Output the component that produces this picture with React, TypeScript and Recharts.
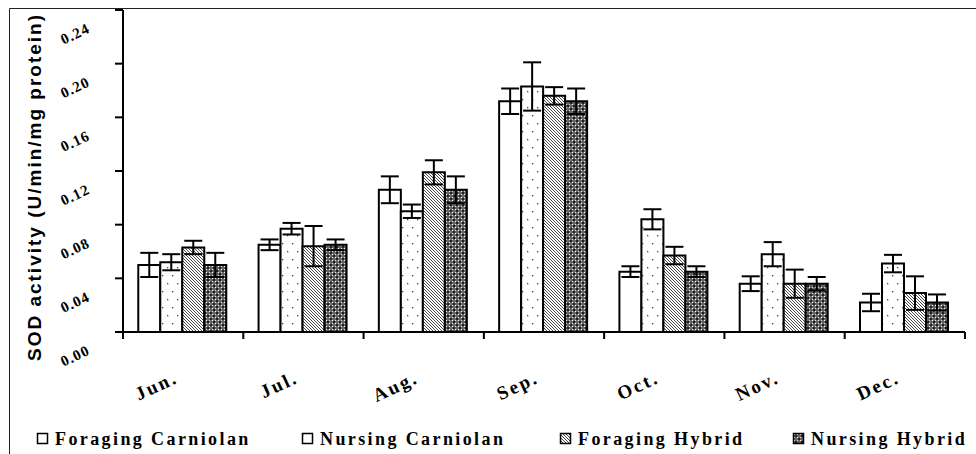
import { BarChart, Bar, XAxis, YAxis, ErrorBar } from "recharts";

const MONTHS = ["Jun.", "Jul.", "Aug.", "Sep.", "Oct.", "Nov.", "Dec."];
const SERIES = ["Foraging Carniolan", "Nursing Carniolan", "Foraging Hybrid", "Nursing Hybrid"];

const FORAGING_CARNIOLAN = [0.05, 0.065, 0.106, 0.172, 0.045, 0.036, 0.022];
const FORAGING_CARNIOLAN_SE = [0.009, 0.004, 0.01, 0.0095, 0.004, 0.0055, 0.0065];
const NURSING_CARNIOLAN = [0.052, 0.077, 0.09, 0.183, 0.084, 0.058, 0.051];
const NURSING_CARNIOLAN_SE = [0.006, 0.0043, 0.005, 0.018, 0.0075, 0.009, 0.0065];
const FORAGING_HYBRID = [0.063, 0.064, 0.119, 0.176, 0.057, 0.036, 0.029];
const FORAGING_HYBRID_SE = [0.005, 0.015, 0.009, 0.0065, 0.0065, 0.0105, 0.0125];
const NURSING_HYBRID = [0.05, 0.065, 0.106, 0.172, 0.045, 0.036, 0.022];
const NURSING_HYBRID_SE = [0.009, 0.004, 0.01, 0.0095, 0.004, 0.005, 0.006];

const Y_TICKS = [0, 0.04, 0.08, 0.12, 0.16, 0.2, 0.24];

const VALUES = [FORAGING_CARNIOLAN, NURSING_CARNIOLAN, FORAGING_HYBRID, NURSING_HYBRID];
const ERRORS = [FORAGING_CARNIOLAN_SE, NURSING_CARNIOLAN_SE, FORAGING_HYBRID_SE, NURSING_HYBRID_SE];
const FILLS = ["#ffffff", "url(#pat-dots)", "url(#pat-diag)", "url(#pat-check)"];

// legend swatch left edges
const LEGEND_X = [37, 302, 560, 793];

const W = 976;
const H = 454;
const Y_AXIS_W = 123;
const X_AXIS_H = 122;
const M_RIGHT = 11;
const AXIS_Y = H - X_AXIS_H;
const BAND = (W - Y_AXIS_W - M_RIGHT) / MONTHS.length;

const SERIF = "'Liberation Serif', 'Times New Roman', Times, serif";
const SANS = "'Liberation Sans', Arial, Helvetica, sans-serif";

const data = MONTHS.map((m, i) => {
  const row: Record<string, string | number> = { month: m };
  VALUES.forEach((v, s) => {
    row["s" + s] = v[i];
    row["e" + s] = ERRORS[s][i];
  });
  return row;
});

const YTick = (props: any) => {
  const { x, y, payload } = props;
  const ex = x - 22;
  const by = y + 22;
  return (
    <text
      transform={`translate(${ex},${by}) rotate(-25)`}
      textAnchor="end"
      style={{ fontFamily: SERIF, fontWeight: 700, fontSize: 15, letterSpacing: 1 }}
      fill="#000"
    >
      {Number(payload.value).toFixed(2)}
    </text>
  );
};

const XTick = (props: any) => {
  const { x, payload, index } = props;
  const left = x - BAND / 2;
  const right = x + BAND / 2;
  return (
    <g>
      <line x1={left} y1={AXIS_Y} x2={left} y2={AXIS_Y + 7} stroke="#000" strokeWidth={2} />
      {index === MONTHS.length - 1 && (
        <line x1={right} y1={AXIS_Y} x2={right} y2={AXIS_Y + 7} stroke="#000" strokeWidth={2} />
      )}
      <text
        transform={`translate(${x - 4},${AXIS_Y + 50}) rotate(-25)`}
        textAnchor="end"
        style={{ fontFamily: SERIF, fontWeight: 700, fontSize: 19, letterSpacing: 2.3 }}
        fill="#000"
      >
        {payload.value}
      </text>
    </g>
  );
};

const TitleLabel = () => (
  <text
    transform="translate(41,187) rotate(-90)"
    textAnchor="middle"
    style={{ fontFamily: SANS, fontWeight: 700, fontSize: 19, letterSpacing: 2 }}
    fill="#000"
  >
    SOD activity (U/min/mg protein)
  </text>
);

export default function App() {
  return (
    <div style={{ position: "absolute", left: 0, top: 0, width: W, height: H, background: "#fff" }}>
      <BarChart
        width={W}
        height={H}
        data={data}
        margin={{ top: 10, right: M_RIGHT, left: 0, bottom: 0 }}
        barCategoryGap="12.7%"
        barGap={0}
      >
        <XAxis
          dataKey="month"
          height={X_AXIS_H}
          tickLine={false}
          axisLine={{ stroke: "#000", strokeWidth: 2 }}
          tick={<XTick />}
          interval={0}
        />
        <YAxis
          width={Y_AXIS_W}
          domain={[0, 0.24]}
          ticks={Y_TICKS}
          tickSize={8}
          tickLine={{ stroke: "#000", strokeWidth: 2 }}
          axisLine={{ stroke: "#000", strokeWidth: 2 }}
          tick={<YTick />}
          label={{ content: <TitleLabel /> }}
        />
        {SERIES.map((name, s) => (
          <Bar
            key={name}
            dataKey={"s" + s}
            name={name}
            fill={FILLS[s]}
            stroke="#000"
            strokeWidth={2}
            isAnimationActive={false}
          >
            <ErrorBar dataKey={"e" + s} width={9} stroke="#000" strokeWidth={2} direction="y" />
          </Bar>
        ))}
      </BarChart>

      <svg
        width={W}
        height={H}
        style={{ position: "absolute", left: 0, top: 0, pointerEvents: "none" }}
      >
        <defs>
          <pattern id="pat-dots" width="10" height="16" patternUnits="userSpaceOnUse">
            <rect width="10" height="16" fill="#fff" />
            <rect x="2" y="3" width="1.3" height="1.3" fill="#444" />
            <rect x="7" y="11" width="1.3" height="1.3" fill="#444" />
          </pattern>
          <pattern id="pat-diag" width="3" height="3" patternUnits="userSpaceOnUse">
            <rect width="3" height="3" fill="#fff" />
            <path d="M0,0 L3,3 M-1,2 L1,4 M2,-1 L4,1" stroke="#333" strokeWidth="0.9" />
          </pattern>
          <pattern id="pat-check" width="6" height="6" patternUnits="userSpaceOnUse">
            <rect width="6" height="6" fill="#666" />
            <rect x="0" y="0" width="2" height="2" fill="#222" />
            <rect x="3" y="3" width="2" height="2" fill="#222" />
            <rect x="2" y="2" width="1" height="1" fill="#fff" />
            <rect x="5" y="5" width="1" height="1" fill="#fff" />
            <rect x="2" y="5" width="1" height="1" fill="#ddd" />
            <rect x="5" y="2" width="1" height="1" fill="#ddd" />
          </pattern>
        </defs>
        <path d={`M9.5,${H} V8.5 H${W}`} fill="none" stroke="#222" strokeWidth={1} />
        {SERIES.map((name, s) => (
          <g key={name}>
            <rect
              x={LEGEND_X[s] + 0.5}
              y={433.5}
              width={10}
              height={10}
              fill={FILLS[s]}
              stroke="#000"
              strokeWidth={1.5}
            />
            <text
              x={LEGEND_X[s] + 18}
              y={445}
              style={{ fontFamily: SERIF, fontWeight: 700, fontSize: 18, letterSpacing: 2.4 }}
              fill="#000"
            >
              {name}
            </text>
          </g>
        ))}
      </svg>
    </div>
  );
}
